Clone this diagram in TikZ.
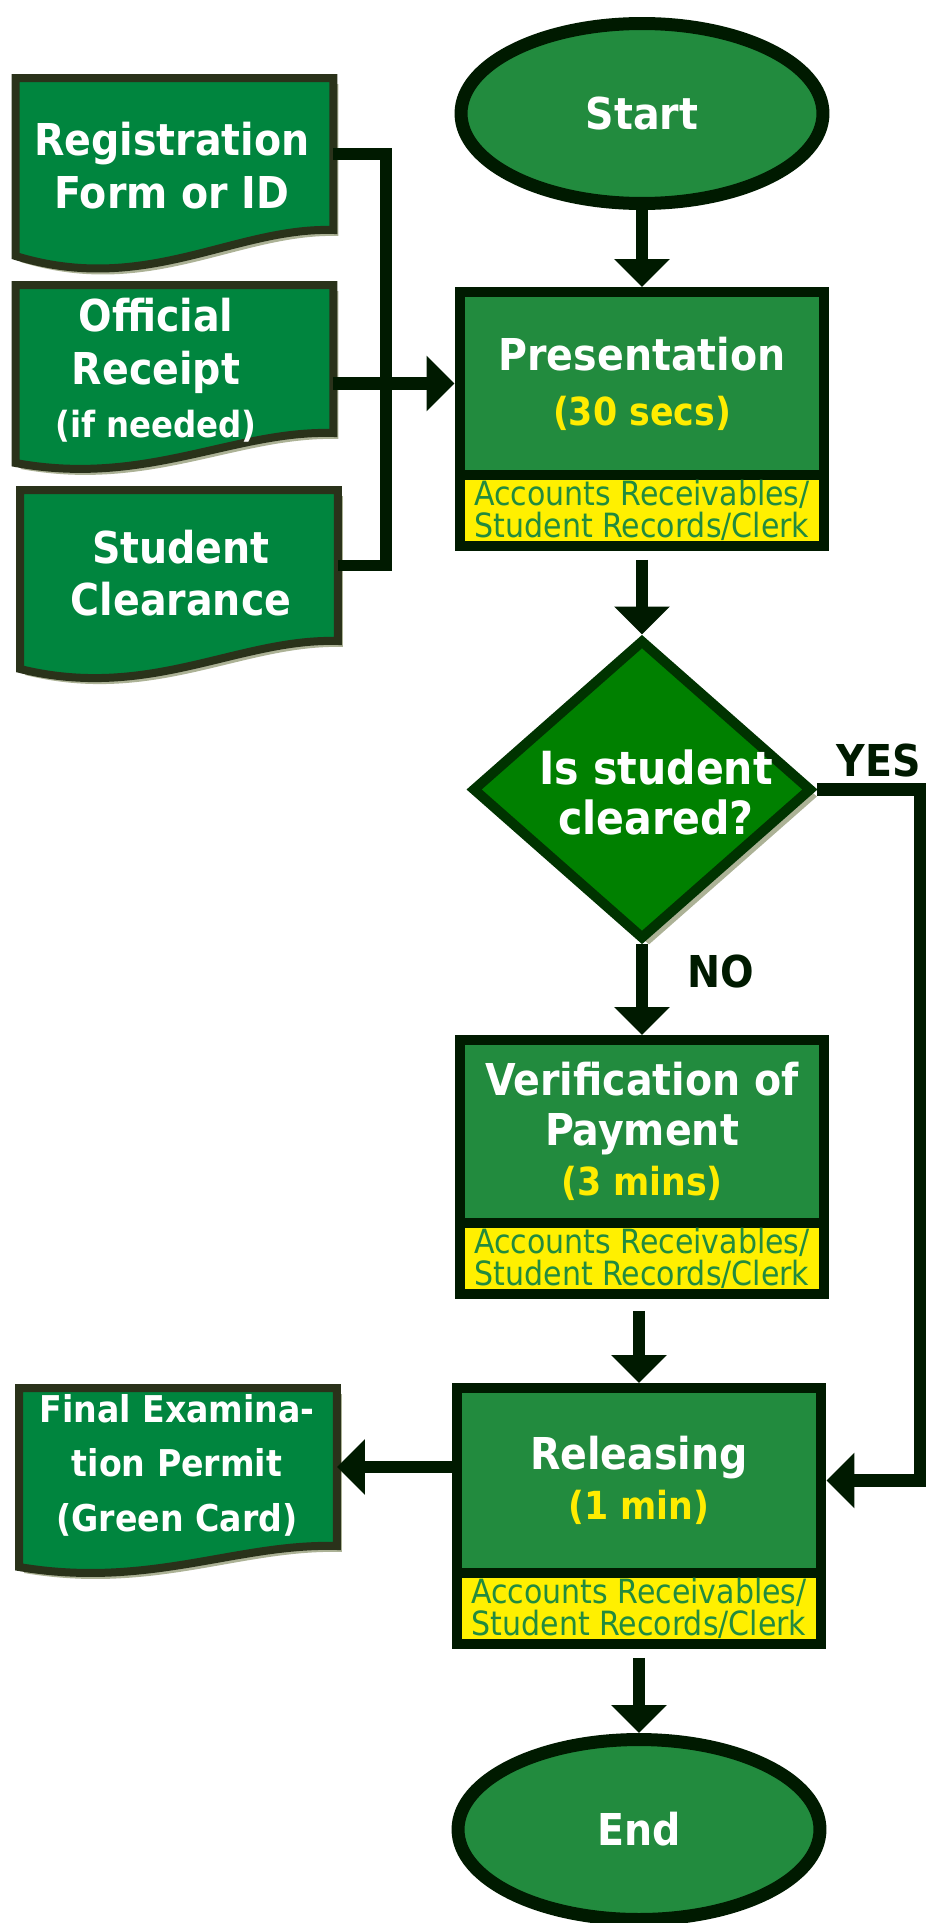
\documentclass[tikz,border=0pt]{standalone}
\usepackage{fontspec}
\setmainfont{DejaVu Sans Condensed}
\usetikzlibrary{shapes.geometric, arrows.meta, positioning, calc, shadows}
\definecolor{flow-dark}{RGB}{0,26,0}
\definecolor{box-green}{RGB}{34,139,62}
\definecolor{doc-green}{RGB}{0,133,62}
\definecolor{doc-edge}{RGB}{42,50,26}
\definecolor{doc-shade}{RGB}{172,178,150}
\definecolor{dec-green}{RGB}{0,128,0}
\definecolor{dec-edge}{RGB}{0,51,0}
\definecolor{band-yellow}{RGB}{255,240,0}
\definecolor{time-yellow}{RGB}{255,236,0}

% outline of a document sheet around a docbox node
\newcommand{\docoutline}[3]{(#1.north west) -- (#1.north east) -- (#1.south east)
  .. controls ($(#1.south east)+(-100,-3)$) and ($(#1.south west)+(130,#3)$)
  .. ($(#1.south west)+(0,#2)$) -- cycle}
\newcommand{\duration}[1]{{\fontsize{22}{29}\selectfont\color{time-yellow}#1}}

\begin{document}
\begin{tikzpicture}[x=0.02cm, y=-0.02cm,
  terminal/.style={ellipse, draw=flow-dark, line width=0.26cm, fill=box-green, minimum width=7.24cm, minimum height=3.6cm, inner sep=0pt, text=white, font=\fontsize{25}{30}\selectfont\bfseries},
  stage/.style={rectangle, draw=flow-dark, line width=0.2cm, fill=box-green, minimum width=7.3cm, inner sep=0pt, align=center, text=white, font=\fontsize{25}{28.5}\selectfont\bfseries},
  band/.style={rectangle, draw=flow-dark, line width=0.2cm, fill=band-yellow, minimum width=7.3cm, minimum height=1.42cm, inner sep=0pt, align=center, text=box-green, font=\fontsize{19}{18}\selectfont},
  decision/.style={diamond, draw=dec-edge, line width=0.2cm, fill=dec-green, minimum width=6.8cm, minimum height=6cm, inner sep=0pt, drop shadow={shadow xshift=0.14cm, shadow yshift=-0.14cm, fill=doc-shade, opacity=1}},
  docbox/.style={rectangle, minimum width=6.36cm, inner sep=0pt, outer sep=0pt},
  docline/.style={draw=doc-edge, line width=0.16cm, fill=doc-green, drop shadow={shadow xshift=0.1cm, shadow yshift=-0.12cm, fill=doc-shade, opacity=1}},
  doctext/.style={align=center, text=white, font=\fontsize{25}{30}\selectfont\bfseries},
  flow/.style={draw=flow-dark, line width=0.25cm, -{Triangle[length=0.56cm, width=1.08cm]}},
  link/.style={draw=flow-dark, line width=0.23cm},
  answer/.style={text=flow-dark, font=\fontsize{25}{30}\selectfont\bfseries},
]
  \useasboundingbox (0,0) rectangle (934,1923);

  % Main column
  \node[terminal] (start) at (642,113.5) {Start};

  \node[stage, minimum height=3.66cm] (pres) at (642,383.5) {Presentation\\[0.1cm]\duration{(30 secs)}};
  \node[band, below=-0.2cm of pres] (presband) {Accounts Receivables/\\Student Records/Clerk};

  \node[decision] (dec) at (642,789.5) {};
  \node[text=white, align=center, font=\fontsize{26}{28.5}\selectfont\bfseries] (dectext) at (656,792) {Is student\\cleared?};

  \node[stage, minimum height=3.66cm] (verif) at (642,1131.5) {Verification of\\Payment\\\duration{(3 mins)}};
  \node[band, below=-0.2cm of verif] (verifband) {Accounts Receivables/\\Student Records/Clerk};

  \node[stage, minimum height=3.7cm] (rel) at (639,1480.5) {Releasing\\\duration{(1 min)}};
  \node[band, below=-0.2cm of rel] (relband) {Accounts Receivables/\\Student Records/Clerk};

  \node[terminal] (end) at (639,1829.5) {End};

  % Documents
  \node[docbox, minimum height=3.04cm] (regform) at (174.5,154) {};
  \filldraw[docline] \docoutline{regform}{26}{66};
  \node[doctext] (regformtext) at (172,165.5) {Registration\\Form or ID};

  \node[docbox, minimum height=2.96cm] (receipt) at (174.5,359) {};
  \filldraw[docline] \docoutline{receipt}{30}{54};
  \node[doctext] (receipttext) at (156,370) {Official\\Receipt\\{\fontsize{20.5}{30}\selectfont(if needed)}};

  \node[docbox, minimum height=3.02cm] (clearance) at (179,565.5) {};
  \filldraw[docline] \docoutline{clearance}{28}{60};
  \node[doctext] (clearancetext) at (181,573) {Student\\Clearance};

  \node[docbox, minimum height=3.16cm] (permit) at (178,1467) {};
  \filldraw[docline] \docoutline{permit}{21}{43};
  \node[doctext, font=\fontsize{21}{31}\selectfont\bfseries] (permittext) at (177,1465) {Final Examina-\\tion Permit\\(Green Card)};

  % Connectors
  \coordinate (bus) at (386,565.5);
  \draw[link] (regform.east) -| (bus) -- (clearance.east);
  \draw[flow] (receipt.east |- pres.west) -- (pres.west);

  \draw[flow] (start) -- (pres);
  \draw[flow, shorten <=0.18cm] (presband) -- (dec);
  \draw[flow] (dec) -- node[answer, pos=0.3, right=0.66cm] {NO} (verif);
  \coordinate (yesbend) at (920,1480.5);
  \draw[flow] (dec.east) -| node[answer, pos=0.3, above] {YES} (yesbend) -- (rel.east);
  \draw[flow, shorten <=0.24cm] (verifband.south -| rel.north) -- (rel.north);
  \draw[flow] (rel.west |- permit.east) -- (permit.east);
  \draw[flow, shorten <=0.18cm] (relband) -- (end);
\end{tikzpicture}
\end{document}
